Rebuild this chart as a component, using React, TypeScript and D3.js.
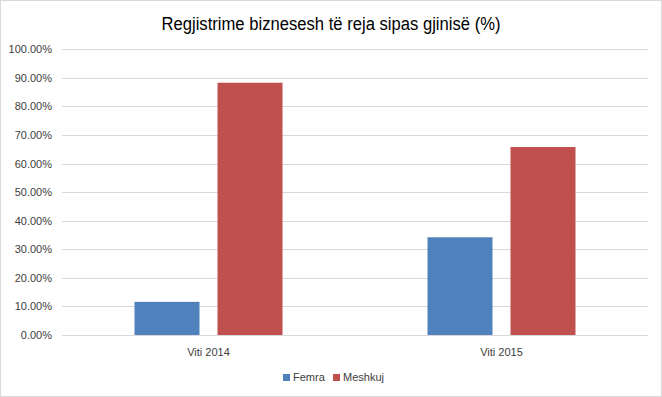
import React from "react";
import * as d3 from "d3";

// data
const categories = ["Viti 2014", "Viti 2015"];
const series = ["Femra", "Meshkuj"];
const femra = [11.6, 34.2];
const meshkuj = [88.3, 65.8];
const yTicks = [0, 10, 20, 30, 40, 50, 60, 70, 80, 90, 100];
const colors = ["#4f81bd", "#c0504d"];

const W = 662;
const H = 397;
const font = "'Liberation Sans', Arial, sans-serif";

export default function App() {
  const values = [femra, meshkuj];

  const x0 = d3.scaleBand<string>().domain(categories).range([62, 648]).padding(0);
  const groupW = 148;
  const x1 = d3.scaleBand<string>().domain(series).range([0, groupW]).paddingInner(0.217);
  const y = d3.scaleLinear().domain([0, 100]).range([335, 49.3]);

  return (
    <svg width={W} height={H} style={{ position: "absolute", left: 0, top: 0, background: "#fff" }}>
      <rect x={0.5} y={0.5} width={W - 1} height={H - 1} fill="#fff" stroke="#d9d9d9" />
      <text
        x={331}
        y={30}
        textAnchor="middle"
        fontFamily={font}
        fontSize={18}
        textLength={339}
        lengthAdjust="spacingAndGlyphs"
        fill="#000"
      >
        Regjistrime biznesesh të reja sipas gjinisë (%)
      </text>

      {/* grid + y labels */}
      {yTicks.map((t) => (
        <g key={t}>
          <line x1={62} x2={648} y1={Math.round(y(t)) + 0.5} y2={Math.round(y(t)) + 0.5} stroke="#d9d9d9" />
          <text x={52} y={y(t) + 4} textAnchor="end" fontFamily={font} fontSize={11} fill="#404040">
            {t.toFixed(2) + "%"}
          </text>
        </g>
      ))}

      {/* bars */}
      {categories.map((c, i) => {
        const gx = x0(c)! + (x0.bandwidth() - groupW) / 2;
        return (
          <g key={c}>
            {series.map((s, j) => (
              <rect
                key={s}
                x={gx + x1(s)!}
                y={y(values[j][i])}
                width={x1.bandwidth()}
                height={y(0) - y(values[j][i])}
                fill={colors[j]}
              />
            ))}
            <text x={x0(c)! + x0.bandwidth() / 2} y={356} textAnchor="middle" fontFamily={font} fontSize={11} fill="#404040">
              {c}
            </text>
          </g>
        );
      })}

      {/* legend */}
      {series.map((s, j) => {
        const lx = j === 0 ? 283 : 333;
        return (
          <g key={s}>
            <rect x={lx} y={374} width={7} height={7} fill={colors[j]} />
            <text x={lx + 10} y={381} fontFamily={font} fontSize={11} fill="#404040">
              {s}
            </text>
          </g>
        );
      })}
    </svg>
  );
}
